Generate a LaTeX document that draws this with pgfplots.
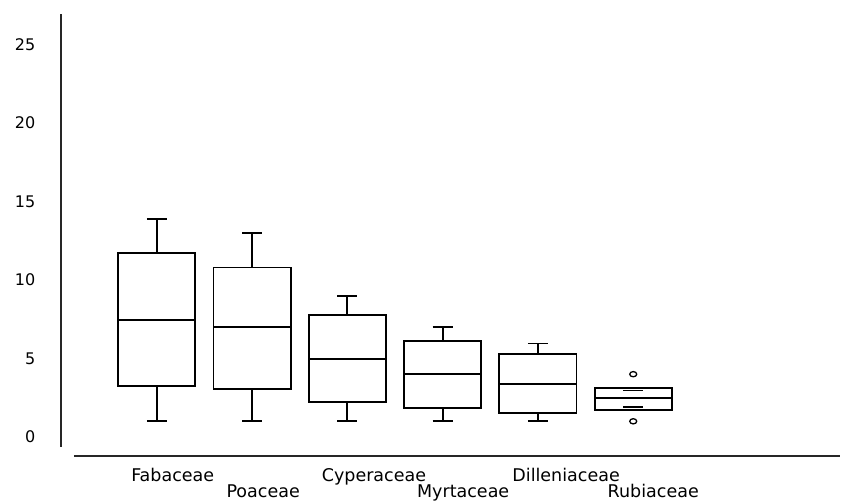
\documentclass[border=0pt]{standalone}
\usepackage{pgfplots}
\pgfplotsset{compat=1.18}
\usepgfplotslibrary{statistics}
\usepackage{fontspec}
\setmainfont{DejaVu Sans}

\pgfplotsset{
  fam box/.style={black, line width=1.8bp, solid,
    boxplot={draw direction=y, box extend=0.81, whisker extend=0.21}},
}

\begin{document}
\begin{tikzpicture}
\begin{axis}[
    at={(61.5bp,57bp)}, anchor=south west,
    scale only axis,
    width=778.5bp, height=433bp,
    xmin=0, xmax=8.17,
    ymin=-0.637, ymax=26.94,
    axis line style={draw=none},
    xtick=\empty,
    ytick={0,5,10,15,20,25},
    major tick length=0pt,
    /pgf/number format/assume math mode=true,
    yticklabel style={font=\fontsize{16bp}{19bp}\selectfont, inner sep=0pt, anchor=east, xshift=-26bp},
    clip=false,
]
% family boxes: lower whisker, lower quartile, median, upper quartile, upper whisker
\addplot[fam box, boxplot prepared={draw position=1,
    lower whisker=1, lower quartile=3.25, median=7.45,
    upper quartile=11.7, upper whisker=13.9}] coordinates {};
\addplot[fam box, boxplot prepared={draw position=2,
    lower whisker=1, lower quartile=3.05, median=7.0,
    upper quartile=10.8, upper whisker=13.0}] coordinates {};
\addplot[fam box, boxplot prepared={draw position=3,
    lower whisker=1, lower quartile=2.25, median=4.95,
    upper quartile=7.75, upper whisker=9.0}] coordinates {};
\addplot[fam box, boxplot prepared={draw position=4,
    lower whisker=1, lower quartile=1.85, median=4.0,
    upper quartile=6.1, upper whisker=7.0}] coordinates {};
\addplot[fam box, boxplot prepared={draw position=5,
    lower whisker=1, lower quartile=1.55, median=3.4,
    upper quartile=5.3, upper whisker=5.95}] coordinates {};
% Rubiaceae: whisker caps fall inside the box, plus two outliers
\addplot[fam box, mark=o, mark size=2.6bp,
    mark options={xscale=1.35, line width=1.3bp},
    boxplot/draw/lower whisker/.code={%
      \draw[line width=1.3bp] (boxplot whisker cs:\pgfplotsboxplotvalue{lower whisker},0)
        -- (boxplot whisker cs:\pgfplotsboxplotvalue{lower whisker},1);},
    boxplot/draw/upper whisker/.code={%
      \draw[line width=1.3bp] (boxplot whisker cs:\pgfplotsboxplotvalue{upper whisker},0)
        -- (boxplot whisker cs:\pgfplotsboxplotvalue{upper whisker},1);},
    boxplot prepared={draw position=6,
    lower whisker=1.91, lower quartile=1.72, median=2.46,
    upper quartile=3.14, upper whisker=2.95}]
  table[row sep=\\, y index=0] {4\\ 1\\};

% axis lines
\draw[black!85, line width=2bp, xshift=-0.5bp] (rel axis cs:0,0) -- (rel axis cs:0,1);
\draw[black!85, line width=2bp] (axis cs:0.13,-1.21) -- (axis cs:8.17,-1.21);

% staggered category names
\begin{scope}[every node/.style={anchor=base west, inner sep=0pt,
    font=\fontsize{17.5bp}{21bp}\selectfont}]
\node at (axis cs:0.73,-2.85) {Fabaceae};
\node at (axis cs:1.73,-3.85) {Poaceae};
\node at (axis cs:2.73,-2.85) {Cyperaceae};
\node at (axis cs:3.73,-3.85) {Myrtaceae};
\node at (axis cs:4.73,-2.85) {Dilleniaceae};
\node at (axis cs:5.73,-3.85) {Rubiaceae};
\end{scope}
\end{axis}
\pgfresetboundingbox
\path[use as bounding box] (0,0) rectangle (846bp,504bp);
\end{tikzpicture}
\end{document}
